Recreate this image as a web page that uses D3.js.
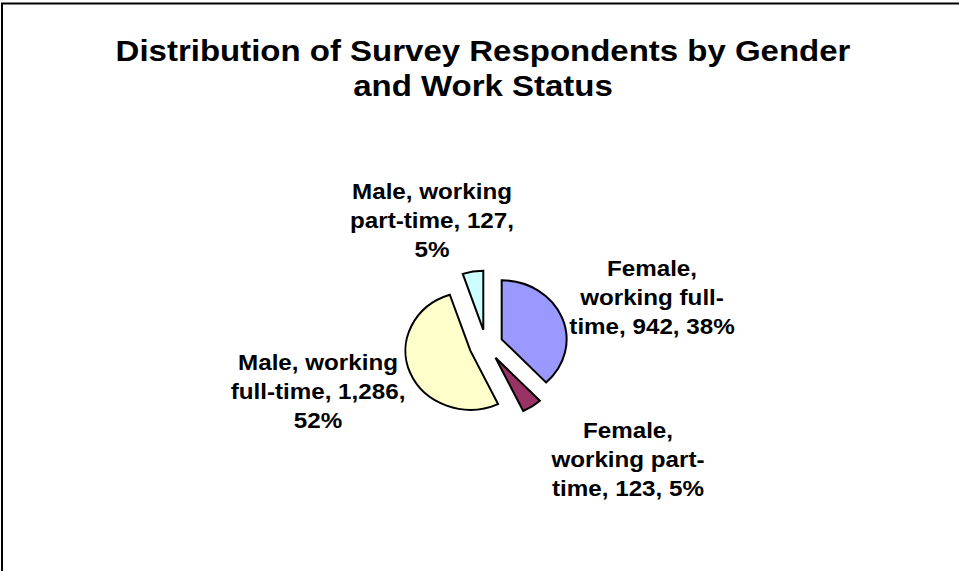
<!DOCTYPE html>
<html>
<head>
<meta charset="utf-8">
<script src="https://cdn.jsdelivr.net/npm/d3@7/dist/d3.min.js"></script>
<style>
  html, body { margin: 0; padding: 0; background: #fff; }
  svg { display: block; }
  text { font-family: "Liberation Sans", Arial, sans-serif; font-weight: bold; fill: #000; }
</style>
</head>
<body>
<svg id="chart" width="959" height="571"></svg>
<script>
// ---- data ----
const titleLines = ["Distribution of Survey Respondents by Gender", "and Work Status"];
const categories = ["Female, working full-time", "Female, working part-time", "Male, working full-time", "Male, working part-time"];
const values = [942, 123, 1286, 127];
const valueLabels = ["942", "123", "1,286", "127"];
const percentLabels = ["38%", "5%", "52%", "5%"];
const labelLines = [
  ["Female,", "working full-", "time, 942, 38%"],
  ["Female,", "working part-", "time, 123, 5%"],
  ["Male, working", "full-time, 1,286,", "52%"],
  ["Male, working", "part-time, 127,", "5%"]
];
const colors = ["#9999FF", "#993366", "#FFFFCC", "#CCFFFF"];

// ---- layout ----
const W = 959, H = 571;
const cx = 486, cy = 345;
const ry = 59, stretch = 1.1;   // horizontal stretch of the whole picture
const explode = 0.26;
const labelPos = [[652, 297], [628, 459], [318, 391], [432, 220]]; // label block centres
const lineH = 29;

const svg = d3.select("#chart");

// frame (only left and top edges visible)
svg.append("rect")
  .attr("x", 2).attr("y", 3.5)
  .attr("width", W + 50).attr("height", H + 50)
  .attr("fill", "#fff").attr("stroke", "#000").attr("stroke-width", 2);

// title
const title = svg.append("g").attr("transform", `translate(483,0) scale(${stretch},1)`);
title.selectAll("text").data(titleLines).join("text")
  .attr("x", 0).attr("y", (d, i) => 61 + i * 35)
  .attr("text-anchor", "middle")
  .attr("font-size", "30px")
  .text(d => d);

// pie
const pie = d3.pie().sort(null).value(d => d).startAngle(0).endAngle(2 * Math.PI);
const arcs = pie(values);
const arc = d3.arc().innerRadius(0).outerRadius(ry);

const pg = svg.append("g").attr("transform", `translate(${cx},${cy}) scale(${stretch},1)`);
pg.selectAll("path").data(arcs).join("path")
  .attr("transform", d => {
    const a = (d.startAngle + d.endAngle) / 2;
    return `translate(${explode * ry * Math.sin(a)},${-explode * ry * Math.cos(a)})`;
  })
  .attr("d", arc)
  .attr("fill", (d, i) => colors[i])
  .attr("stroke", "#000")
  .attr("stroke-width", 2)
  .attr("stroke-linejoin", "miter")
  .attr("vector-effect", "non-scaling-stroke");

// labels
labelLines.forEach((lines, i) => {
  const [lx, ly] = labelPos[i];
  const g = svg.append("g").attr("transform", `translate(${lx},${ly}) scale(${stretch},1)`);
  const n = lines.length;
  g.selectAll("text").data(lines).join("text")
    .attr("x", 0)
    .attr("y", (d, j) => (j - (n - 1) / 2) * lineH)
    .attr("dy", "0.35em")
    .attr("text-anchor", "middle")
    .attr("font-size", "22px")
    .text(d => d);
});
</script>
</body>
</html>
